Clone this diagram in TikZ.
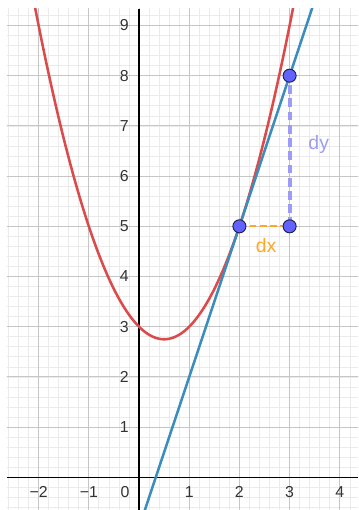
\documentclass[tikz,border=0pt]{standalone}
\usepackage{fontspec}
\setmainfont{Liberation Sans}
\definecolor{gridminor}{HTML}{EBEBEB}
\definecolor{gridmajor}{HTML}{C6C6C6}
\definecolor{curvered}{HTML}{DC4B4B}
\definecolor{curveblue}{HTML}{3C8DBC}
\definecolor{ptfill}{HTML}{6262FF}
\definecolor{ptdraw}{HTML}{202050}
\definecolor{dxcol}{HTML}{FFA726}
\definecolor{dycol}{HTML}{9C9CF7}
\definecolor{ticktext}{HTML}{333333}
\begin{document}
\begin{tikzpicture}[x=1cm,y=1cm,
  axisline/.style={line width=0.7pt, black},
  ticklab/.style={inner sep=0pt, text=ticktext, font=\fontsize{9}{10}\selectfont},
  redcurve/.style={curvered, line width=1.45pt},
  bluecurve/.style={curveblue, line width=1.45pt},
  ptnode/.style={circle, fill=ptfill, draw=ptdraw, line width=0.55pt, minimum size=0.26cm, inner sep=0pt},
  dxline/.style={dxcol, line width=1.3pt, dash pattern=on 3.8pt off 2pt},
  dyline/.style={dycol, line width=2.3pt, dash pattern=on 5pt off 2.5pt},
  difflab/.style={inner sep=0pt, font=\fontsize{11}{12}\selectfont}]
\useasboundingbox (-2.769,-0.651) rectangle (4.363,9.508);
\begin{scope}
  \clip (-2.63,-0.651) rectangle (4.363,9.33);
  \draw[gridminor, line width=0.4pt] (-3,-1) grid[step=0.2] (5,10);
  \draw[gridmajor, line width=0.55pt] (-3,-1) grid[step=1] (5,10);
\end{scope}
\draw[axisline] (-2.63,0) -- (4.363,0);
\draw[axisline] (0,-0.651) -- (0,9.33);
\foreach \k in {1,...,9} \node[ticklab, anchor=east] (y\k) at (-0.2,\k) {\k};
\foreach \k/\t in {-2/−2,-1/−1,1/1,2/2,3/3,4/4} \node[ticklab] (x\k) at (\k,-0.29) {\t};
\node[ticklab] (o) at (-0.28,-0.29) {0};
\begin{scope}
  \clip (-2.63,-0.651) rectangle (4.363,9.33);
  \draw[redcurve] plot[domain=-2.15:3.15, samples=120, smooth] (\x, {\x*\x-\x+3});
  \draw[bluecurve] (0.05,-0.85) -- (3.5,9.5);
\end{scope}
\coordinate (A) at (2,5);
\coordinate (B) at (3,5);
\coordinate (C) at (3,8);
\draw[dxline] (A) -- (B);
\draw[dyline] (B) -- (C);
\node[ptnode] (pA) at (A) {};
\node[ptnode] (pB) at (B) {};
\node[ptnode] (pC) at (C) {};
\node[difflab, text=dxcol] (dx) at (2.53,4.62) {dx};
\node[difflab, text=dycol] (dy) at (3.58,6.62) {dy};
\end{tikzpicture}
\end{document}
